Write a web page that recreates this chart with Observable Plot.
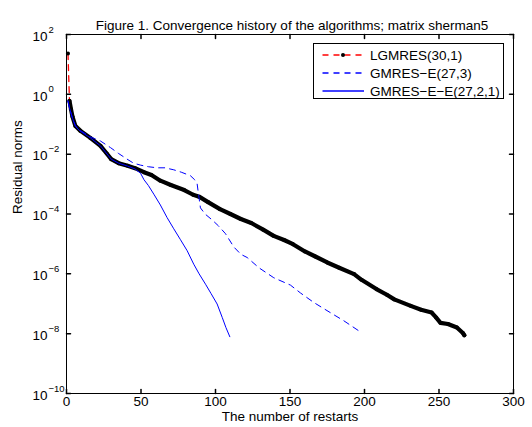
<!DOCTYPE html>
<html><head><meta charset="utf-8">
<script src="https://cdn.jsdelivr.net/npm/d3@7"></script>
<script src="https://cdn.jsdelivr.net/npm/@observablehq/plot@0.6"></script>
<style>
body{margin:0;background:#fff;}
#wrap{position:relative;width:532px;height:427px;font-family:"Liberation Sans",Arial,sans-serif;}
#legend{position:absolute;left:313px;top:43px;width:191px;height:56px;border:1px solid #000;background:#fff;box-sizing:border-box;}
</style></head>
<body><div id="wrap"><div id="legend"></div></div>
<script>
// LGMRES(30,1)
const lgR = [1,2,3,4,6,9.4,16,22.8,27,30,35,41,46,52,57,63,70,79,85,89,95,103,110,117,124,132,139,146,152,160,167,175,183,193,198,208,215,220,231,238,245,248,251,256,262,266,267];
const lgV = [23,0.6,0.32,0.18,0.087,0.06,0.035,0.019,0.0105,0.0068,0.005,0.0041,0.0034,0.0025,0.002,0.0013,0.00093,0.00063,0.00044,0.00038,0.00025,0.000145,0.0001,6.8e-5,5e-5,3e-5,1.86e-5,1.35e-5,9.8e-6,5.6e-6,3.8e-6,2.4e-6,1.6e-6,9.8e-7,6.3e-7,3.1e-7,2e-7,1.4e-7,8.5e-8,6.3e-8,5.1e-8,3.5e-8,2.3e-8,2.1e-8,1.6e-8,1.05e-8,8.9e-9];
// GMRES-E(27,3)
const geR = [1,2,4,6,9,16,22.8,29.5,35,40.7,45,49.7,55,60.8,66,72,77,83.2,86,87.7,88.5,89.9,93,97.8,102,106.7,112.3,117,121.3,129.1,139.1,150.3,157,166,177.2,186.1,196];
const geV = [0.6,0.35,0.16,0.089,0.063,0.038,0.0275,0.0166,0.0105,0.0068,0.005,0.0043,0.0038,0.0035,0.0035,0.003,0.0025,0.0019,0.0014,0.001,0.0005,0.00016,0.0001,6.3e-5,4e-5,2.2e-5,7.9e-6,4.5e-6,3.5e-6,1.6e-6,7.4e-7,4.2e-7,2.3e-7,1.1e-7,5e-8,2.7e-8,1.26e-8];
// GMRES-E-E(27,2,1)
const eeR = [1,2,4,6,9,16,22.8,30,35,41,46,49.7,52,55,58.6,63,67.5,72,76.5,81,85.4,89,93.3,97,101.1,104.5,107,109.6];
const eeV = [0.6,0.35,0.16,0.085,0.06,0.035,0.019,0.0068,0.005,0.004,0.0032,0.0023,0.0014,0.00089,0.00046,0.0002,7.6e-5,3.2e-5,1.38e-5,5.9e-6,2.1e-6,1e-6,4.5e-7,2.2e-7,9.8e-8,3.5e-8,1.6e-8,7.9e-9];

const names = ["LGMRES(30,1)","GMRES\u2212E(27,3)","GMRES\u2212E\u2212E(27,2,1)"];
const xTicks = [0,50,100,150,200,250,300];
const yExps = [2,0,-2,-4,-6,-8,-10];
const titleText = "Figure 1. Convergence history of the algorithms; matrix sherman5";
const xLabel = "The number of restarts";
const yLabel = "Residual norms";

const lg = lgR.map((r,i)=>({r, v:lgV[i]}));
const ge = geR.map((r,i)=>({r, v:geV[i]}));
const ee = eeR.map((r,i)=>({r, v:eeV[i]}));

const tickShape = {draw(ctx, l){ ctx.moveTo(0,0); ctx.lineTo(0,-l); }};
const FONT = '"Liberation Sans", Arial, sans-serif';

const chart = Plot.plot({
  width: 532, height: 427,
  marginLeft: 66, marginRight: 19, marginTop: 34, marginBottom: 34,
  x: {domain:[0,300], axis:null},
  y: {type:"log", domain:[1e-10,1e2], axis:null},
  style: {fontFamily: FONT, fontSize: "13.5px", background:"#fff", color:"#000"},
  marks: [
    Plot.line(lg, {x:"r", y:"v", stroke:"#ff0000", strokeWidth:1.3, strokeDasharray:"6,5"}),
    Plot.line(lg.slice(1), {x:"r", y:"v", stroke:"#000", strokeWidth:4.2, strokeLinejoin:"round", strokeLinecap:"round"}),
    Plot.dot(lg, {x:"r", y:"v", r:2, fill:"#000"}),
    Plot.line(ge, {x:"r", y:"v", stroke:"#0000ff", strokeWidth:1, strokeDasharray:"6,5"}),
    Plot.line(ee, {x:"r", y:"v", stroke:"#0000ff", strokeWidth:1}),
    Plot.frame({stroke:"#000", strokeWidth:1}),
    Plot.vector(xTicks, {x:d=>d, frameAnchor:"bottom", length:4, rotate:0, anchor:"start", shape:tickShape, stroke:"#000"}),
    Plot.vector(xTicks, {x:d=>d, frameAnchor:"top", length:4, rotate:180, anchor:"start", shape:tickShape, stroke:"#000"}),
    Plot.vector(yExps, {y:d=>Math.pow(10,d), frameAnchor:"left", length:4, rotate:90, anchor:"start", shape:tickShape, stroke:"#000"}),
    Plot.vector(yExps, {y:d=>Math.pow(10,d), frameAnchor:"right", length:4, rotate:-90, anchor:"start", shape:tickShape, stroke:"#000"}),
    Plot.text(xTicks, {x:d=>d, frameAnchor:"bottom", dy:12, text:d=>String(d), fill:"#000"}),
    Plot.text(yExps, {y:d=>Math.pow(10,d), frameAnchor:"left", dx:-19, dy:2, textAnchor:"end", text:()=>"10", fill:"#000"}),
    Plot.text(yExps, {y:d=>Math.pow(10,d), frameAnchor:"left", dx:-18, dy:-5, textAnchor:"start", fontSize:9.5, text:d=>d<0?"\u2212"+(-d):String(d), fill:"#000"}),
    Plot.text([titleText], {frameAnchor:"top", dy:-14, dx:2, text:d=>d, fill:"#000"}),
    Plot.text([xLabel], {frameAnchor:"bottom", dy:27, text:d=>d, fill:"#000"}),
    Plot.text([yLabel], {frameAnchor:"left", dx:-49, rotate:-90, text:d=>d, fill:"#000"})
  ]
});
document.getElementById("wrap").insertBefore(chart, document.getElementById("legend"));

// legend
const styles = [
  {stroke:"#ff0000", dash:"6,5", dot:true},
  {stroke:"#0000ff", dash:"6,5", dot:false},
  {stroke:"#0000ff", dash:null, dot:false}
];
const ls = d3.select("#legend").append("svg").attr("width",189).attr("height",54)
  .style("font-family", FONT).style("font-size","13.5px");
names.forEach((n,i)=>{
  const y = 11 + i*18;
  const s = styles[i];
  const ln = ls.append("line").attr("x1",8.5).attr("x2",50).attr("y1",y).attr("y2",y)
    .attr("stroke",s.stroke).attr("stroke-width",1.3);
  if (s.dash) ln.attr("stroke-dasharray", s.dash);
  if (s.dot) ls.append("circle").attr("cx",29).attr("cy",y).attr("r",2).attr("fill","#000");
  ls.append("text").attr("x",56).attr("y",y).attr("dy","0.35em").text(n);
});
</script>
</body></html>
